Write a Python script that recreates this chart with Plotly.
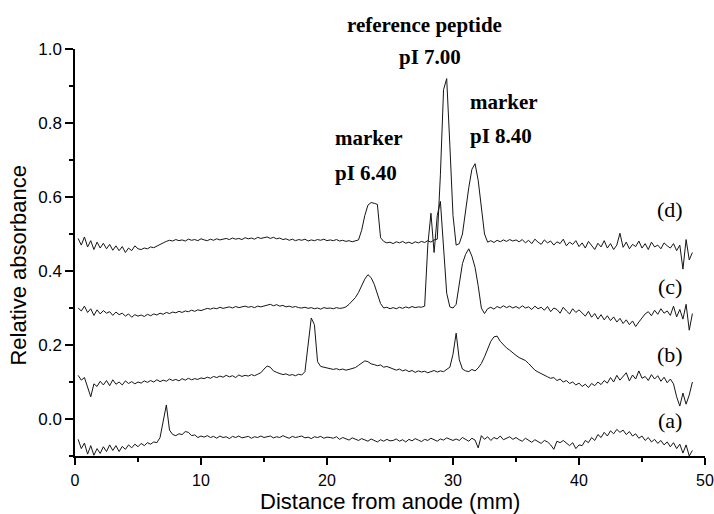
import plotly.graph_objects as go

# Distance from anode (mm), sampling grid of the traces
DISTANCE_MM = [
    0.25, 0.5, 0.75, 1.0, 1.25, 1.5, 1.75, 2.0, 2.25, 2.5, 2.75, 3.0, 3.25, 3.5, 3.75, 4.0, 4.25, 4.5, 4.75, 5.0,
    5.25, 5.5, 5.75, 6.0, 6.25, 6.5, 6.75, 7.0, 7.25, 7.5, 7.75, 8.0, 8.25, 8.5, 8.75, 9.0, 9.25, 9.5, 9.75, 10.0,
    10.25, 10.5, 10.75, 11.0, 11.25, 11.5, 11.75, 12.0, 12.25, 12.5, 12.75, 13.0, 13.25, 13.5, 13.75, 14.0, 14.25, 14.5, 14.75, 15.0,
    15.25, 15.5, 15.75, 16.0, 16.25, 16.5, 16.75, 17.0, 17.25, 17.5, 17.75, 18.0, 18.25, 18.5, 18.75, 19.0, 19.25, 19.5, 19.75, 20.0,
    20.25, 20.5, 20.75, 21.0, 21.25, 21.5, 21.75, 22.0, 22.25, 22.5, 22.75, 23.0, 23.25, 23.5, 23.75, 24.0, 24.25, 24.5, 24.75, 25.0,
    25.25, 25.5, 25.75, 26.0, 26.25, 26.5, 26.75, 27.0, 27.25, 27.5, 27.75, 28.0, 28.25, 28.5, 28.75, 29.0, 29.25, 29.5, 29.75, 30.0,
    30.25, 30.5, 30.75, 31.0, 31.25, 31.5, 31.75, 32.0, 32.25, 32.5, 32.75, 33.0, 33.25, 33.5, 33.75, 34.0, 34.25, 34.5, 34.75, 35.0,
    35.25, 35.5, 35.75, 36.0, 36.25, 36.5, 36.75, 37.0, 37.25, 37.5, 37.75, 38.0, 38.25, 38.5, 38.75, 39.0, 39.25, 39.5, 39.75, 40.0,
    40.25, 40.5, 40.75, 41.0, 41.25, 41.5, 41.75, 42.0, 42.25, 42.5, 42.75, 43.0, 43.25, 43.5, 43.75, 44.0, 44.25, 44.5, 44.75, 45.0,
    45.25, 45.5, 45.75, 46.0, 46.25, 46.5, 46.75, 47.0, 47.25, 47.5, 47.75, 48.0, 48.25, 48.5, 48.75, 49.0,
]

TRACE_A = [
    -0.055, -0.080, -0.065, -0.095, -0.072, -0.098, -0.080, -0.093, -0.075, -0.088, -0.070, -0.085, -0.072, -0.088, -0.074, -0.082, -0.070, -0.078, -0.068, -0.075,
    -0.066, -0.072, -0.064, -0.068, -0.062, -0.064, -0.050, -0.005, 0.038, -0.030, -0.042, -0.045, -0.040, -0.042, -0.034, -0.036, -0.045, -0.043, -0.050, -0.046,
    -0.049, -0.045, -0.050, -0.047, -0.052, -0.046, -0.050, -0.048, -0.053, -0.047, -0.050, -0.046, -0.051, -0.049, -0.047, -0.052, -0.048, -0.050, -0.046, -0.050,
    -0.049, -0.046, -0.051, -0.048, -0.050, -0.045, -0.049, -0.052, -0.047, -0.050, -0.048, -0.046, -0.051, -0.049, -0.053, -0.048, -0.050, -0.047, -0.052, -0.049,
    -0.050, -0.052, -0.048, -0.055, -0.050, -0.053, -0.057, -0.051, -0.055, -0.058, -0.053, -0.056, -0.060, -0.054, -0.058, -0.062, -0.056, -0.060, -0.055, -0.059,
    -0.058, -0.054, -0.060, -0.056, -0.062, -0.055, -0.059, -0.053, -0.057, -0.061, -0.055, -0.058, -0.052, -0.056, -0.060, -0.054, -0.057, -0.051, -0.055, -0.058,
    -0.054, -0.058, -0.050, -0.056, -0.060, -0.052, -0.057, -0.078, -0.045, -0.055, -0.048, -0.058, -0.050, -0.054, -0.046, -0.056, -0.052, -0.048, -0.055, -0.050,
    -0.056, -0.060, -0.052, -0.058, -0.063, -0.056, -0.060, -0.066, -0.058, -0.062, -0.070, -0.082, -0.060, -0.064, -0.058, -0.066, -0.072, -0.064, -0.080, -0.070,
    -0.072, -0.058, -0.064, -0.050, -0.058, -0.042, -0.050, -0.036, -0.046, -0.032, -0.040, -0.028, -0.036, -0.030, -0.042, -0.034, -0.046, -0.040, -0.052, -0.046,
    -0.058, -0.050, -0.062, -0.055, -0.066, -0.058, -0.070, -0.062, -0.075, -0.064, -0.080, -0.068, -0.092, -0.070, -0.100, -0.085,
]

TRACE_B = [
    0.118, 0.105, 0.112, 0.085, 0.060, 0.095, 0.088, 0.102, 0.092, 0.104, 0.090, 0.106, 0.094, 0.100, 0.092, 0.103, 0.096, 0.101, 0.095, 0.100,
    0.097, 0.103, 0.099, 0.104, 0.100, 0.106, 0.101, 0.105, 0.102, 0.108, 0.104, 0.107, 0.103, 0.109, 0.105, 0.110, 0.106, 0.109, 0.107, 0.111,
    0.109, 0.113, 0.110, 0.115, 0.112, 0.116, 0.113, 0.118, 0.114, 0.117, 0.112, 0.119, 0.115, 0.118, 0.116, 0.120, 0.117, 0.121, 0.125, 0.135,
    0.143, 0.140, 0.130, 0.126, 0.124, 0.120, 0.122, 0.118, 0.120, 0.117, 0.121, 0.119, 0.128, 0.200, 0.273, 0.255, 0.155, 0.142, 0.140, 0.138,
    0.137, 0.134, 0.136, 0.133, 0.135, 0.132, 0.134, 0.136, 0.139, 0.145, 0.152, 0.157, 0.155, 0.149, 0.147, 0.144, 0.146, 0.140, 0.142, 0.138,
    0.136, 0.132, 0.135, 0.130, 0.133, 0.128, 0.131, 0.126, 0.130, 0.127, 0.129, 0.125, 0.128, 0.131, 0.127, 0.130, 0.128, 0.133, 0.140, 0.175,
    0.232, 0.160, 0.135, 0.130, 0.128, 0.134, 0.130, 0.138, 0.150, 0.168, 0.190, 0.210, 0.222, 0.224, 0.210, 0.200, 0.192, 0.186, 0.178, 0.172,
    0.166, 0.163, 0.158, 0.150, 0.140, 0.132, 0.127, 0.122, 0.118, 0.114, 0.110, 0.112, 0.104, 0.108, 0.100, 0.104, 0.096, 0.100, 0.092, 0.097,
    0.088, 0.094, 0.085, 0.096, 0.090, 0.100, 0.093, 0.104, 0.097, 0.112, 0.100, 0.118, 0.105, 0.114, 0.125, 0.103, 0.119, 0.108, 0.130, 0.110,
    0.115, 0.104, 0.120, 0.108, 0.117, 0.102, 0.113, 0.098, 0.108, 0.095, 0.060, 0.035, 0.070, 0.040, 0.065, 0.100,
]

TRACE_C = [
    0.300, 0.292, 0.305, 0.288, 0.298, 0.280, 0.295, 0.284, 0.293, 0.286, 0.290, 0.280, 0.289, 0.282, 0.286, 0.278, 0.284, 0.275, 0.282, 0.278,
    0.281, 0.277, 0.283, 0.279, 0.284, 0.281, 0.286, 0.283, 0.288, 0.285, 0.289, 0.287, 0.291, 0.288, 0.292, 0.290, 0.294, 0.291, 0.295, 0.293,
    0.296, 0.299, 0.297, 0.300, 0.298, 0.302, 0.299, 0.301, 0.303, 0.300, 0.304, 0.301, 0.303, 0.305, 0.302, 0.304, 0.301, 0.305, 0.303, 0.306,
    0.307, 0.310, 0.306, 0.309, 0.305, 0.307, 0.303, 0.305, 0.302, 0.304, 0.301, 0.300, 0.302, 0.299, 0.301, 0.298, 0.300, 0.297, 0.301, 0.299,
    0.300, 0.298, 0.301, 0.299, 0.300, 0.303, 0.310, 0.318, 0.328, 0.342, 0.360, 0.378, 0.390, 0.382, 0.364, 0.340, 0.312, 0.300, 0.302, 0.298,
    0.301, 0.298, 0.302, 0.299, 0.303, 0.300, 0.304, 0.301, 0.303, 0.302, 0.305, 0.470, 0.556, 0.450, 0.550, 0.588, 0.460, 0.340, 0.303, 0.300,
    0.310, 0.370, 0.420, 0.445, 0.460, 0.440, 0.410, 0.360, 0.300, 0.285, 0.298, 0.302, 0.297, 0.304, 0.300, 0.306, 0.301, 0.305, 0.300, 0.304,
    0.299, 0.306, 0.300, 0.303, 0.296, 0.305, 0.298, 0.302, 0.294, 0.304, 0.290, 0.300, 0.296, 0.286, 0.302, 0.292, 0.284, 0.298, 0.288, 0.295,
    0.286, 0.278, 0.291, 0.275, 0.285, 0.270, 0.282, 0.268, 0.279, 0.266, 0.276, 0.262, 0.272, 0.258, 0.268, 0.255, 0.265, 0.250, 0.262, 0.272,
    0.284, 0.290, 0.279, 0.294, 0.283, 0.298, 0.286, 0.292, 0.280, 0.305, 0.276, 0.296, 0.270, 0.310, 0.240, 0.285,
]

TRACE_D = [
    0.488, 0.470, 0.492, 0.465, 0.482, 0.458, 0.478, 0.462, 0.475, 0.460, 0.472, 0.456, 0.468, 0.455, 0.466, 0.450, 0.462, 0.455, 0.468, 0.460,
    0.458, 0.462, 0.460, 0.465, 0.463, 0.468, 0.472, 0.476, 0.480, 0.483, 0.481, 0.485, 0.482, 0.484, 0.481, 0.486, 0.483, 0.485, 0.482, 0.487,
    0.484, 0.482, 0.486, 0.483, 0.487, 0.484, 0.486, 0.488, 0.485, 0.489, 0.486, 0.488, 0.485, 0.490, 0.487, 0.489, 0.486, 0.491, 0.488, 0.490,
    0.492, 0.488, 0.491, 0.487, 0.489, 0.485, 0.487, 0.483, 0.486, 0.482, 0.485, 0.483, 0.486, 0.481, 0.484, 0.482, 0.485, 0.483, 0.486, 0.482,
    0.484, 0.482, 0.485, 0.481, 0.483, 0.480, 0.482, 0.479, 0.481, 0.484, 0.510, 0.550, 0.578, 0.585, 0.583, 0.580, 0.490, 0.480, 0.476, 0.478,
    0.474, 0.479, 0.476, 0.480, 0.475, 0.478, 0.474, 0.479, 0.476, 0.480, 0.477, 0.482, 0.478, 0.484, 0.486, 0.660, 0.890, 0.920, 0.740, 0.550,
    0.470, 0.474, 0.500, 0.565, 0.625, 0.675, 0.690, 0.645, 0.580, 0.500, 0.478, 0.482, 0.477, 0.483, 0.479, 0.484, 0.480, 0.485, 0.481, 0.484,
    0.479, 0.485, 0.476, 0.483, 0.474, 0.486, 0.478, 0.472, 0.484, 0.476, 0.481, 0.470, 0.479, 0.474, 0.486, 0.468, 0.478, 0.472, 0.482, 0.466,
    0.476, 0.462, 0.480, 0.468, 0.458, 0.475, 0.465, 0.482, 0.462, 0.474, 0.458, 0.470, 0.502, 0.464, 0.478, 0.460, 0.472, 0.466, 0.481, 0.462,
    0.474, 0.458, 0.478, 0.465, 0.470, 0.460, 0.476, 0.468, 0.462, 0.474, 0.455, 0.470, 0.405, 0.485, 0.430, 0.450,
]

SERIES = [("(a)", TRACE_A), ("(b)", TRACE_B), ("(c)", TRACE_C), ("(d)", TRACE_D)]

# Trace labels (x in mm, y in absorbance units)
TRACE_LABELS = ["(a)", "(b)", "(c)", "(d)"]
TRACE_LABEL_X = [47.2, 47.2, 47.2, 47.2]
TRACE_LABEL_Y = [-0.005, 0.173, 0.357, 0.565]

# Peak annotations (x in mm, y in absorbance units)
PEAK_TEXT = ["reference peptide", "pI 7.00", "marker", "pI 8.40", "marker", "pI 6.40"]
PEAK_X = [27.7, 28.17, 31.19, 31.19, 20.48, 20.48]
PEAK_Y = [1.065, 0.978, 0.857, 0.765, 0.759, 0.665]
PEAK_ANCHOR = ["center", "center", "left", "left", "left", "left"]

Y_TICKS = [0.0, 0.2, 0.4, 0.6, 0.8, 1.0]
X_TICKS = [0, 10, 20, 30, 40, 50]
X_RANGE = [0, 50]
Y_RANGE = [-0.1, 1.0]

SANS = "Liberation Sans, Arial, sans-serif"
SERIF = "Liberation Serif, Times New Roman, serif"

fig = go.Figure()
for name, vals in SERIES:
    fig.add_trace(go.Scatter(
        x=DISTANCE_MM, y=vals, mode="lines", name=name,
        line=dict(color="#151515", width=1), showlegend=False,
    ))


def to_paper(v, rng):
    return (v - rng[0]) / (rng[1] - rng[0])


annotations = []
for t, x, y in zip(TRACE_LABELS, TRACE_LABEL_X, TRACE_LABEL_Y):
    annotations.append(dict(x=to_paper(x, X_RANGE), y=to_paper(y, Y_RANGE), xref="paper", yref="paper",
                            text=t, showarrow=False, xanchor="center", yanchor="middle",
                            font=dict(family=SERIF, size=22, color="black")))
for t, x, y, a in zip(PEAK_TEXT, PEAK_X, PEAK_Y, PEAK_ANCHOR):
    annotations.append(dict(x=to_paper(x, X_RANGE), y=to_paper(y, Y_RANGE), xref="paper", yref="paper",
                            text="<b>%s</b>" % t, showarrow=False, xanchor=a, yanchor="middle",
                            font=dict(family=SERIF, size=21, color="black")))
# axis titles
annotations.append(dict(x=0.5, y=-0.111, xref="paper", yref="paper", text="Distance from anode (mm)",
                        showarrow=False, xanchor="center", yanchor="middle",
                        font=dict(family=SANS, size=22, color="black")))
annotations.append(dict(x=-0.0897, y=0.469, xref="paper", yref="paper", text="Relative absorbance",
                        showarrow=False, xanchor="center", yanchor="middle", textangle=-90,
                        font=dict(family=SANS, size=22, color="black")))

fig.update_layout(
    width=714, height=514,
    margin=dict(l=75, r=9, t=49, b=58, autoexpand=False),
    plot_bgcolor="white", paper_bgcolor="white",
    showlegend=False,
    annotations=annotations,
    xaxis=dict(
        range=X_RANGE, tickvals=X_TICKS, showgrid=False, zeroline=False, automargin=False,
        showline=True, linecolor="black", linewidth=1.5, mirror=False,
        ticks="outside", ticklen=7, tickwidth=1.5, tickcolor="black",
        ticklabelstandoff=2,
        tickfont=dict(family=SANS, size=16, color="black"),
        minor=dict(dtick=5, tick0=0, ticks="outside", ticklen=4, tickwidth=1.5, tickcolor="black", showgrid=False),
    ),
    yaxis=dict(
        range=Y_RANGE, tickvals=Y_TICKS, tickformat=".1f", showgrid=False, zeroline=False, automargin=False,
        showline=True, linecolor="black", linewidth=1.5, mirror=False,
        ticks="outside", ticklen=8, tickwidth=1.5, tickcolor="black",
        tickfont=dict(family=SANS, size=17, color="black"),
        minor=dict(dtick=0.1, tick0=0, ticks="outside", ticklen=4, tickwidth=1.5, tickcolor="black", showgrid=False),
    ),
)

fig.write_html("out.html")
